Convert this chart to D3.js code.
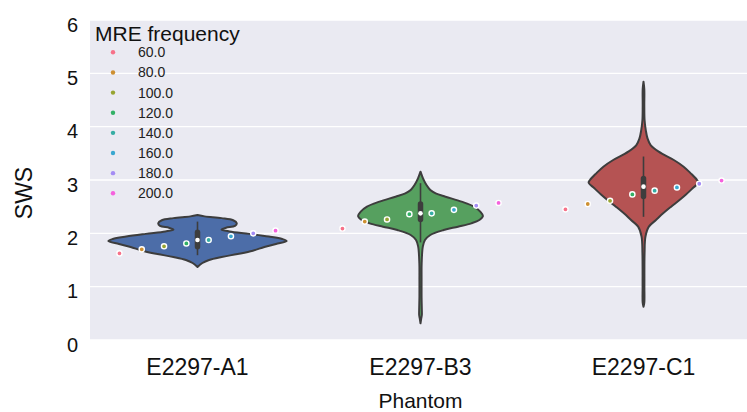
<!DOCTYPE html>
<html>
<head>
<meta charset="utf-8">
<script src="https://cdn.jsdelivr.net/npm/d3@7"></script>
<style>
  html, body { margin: 0; padding: 0; background: #ffffff; }
  svg { display: block; font-family: "Liberation Sans", Arial, Helvetica, sans-serif; }
</style>
</head>
<body>
<svg id="chart" width="747" height="412"></svg>
<script>
// ---------------- data ----------------
const categories = ["E2297-A1", "E2297-B3", "E2297-C1"];
const frequencies = [60, 80, 100, 120, 140, 160, 180, 200];
const frequencyLabels = ["60.0", "80.0", "100.0", "120.0", "140.0", "160.0", "180.0", "200.0"];
const frequencyColors = ["#f77189", "#ce9032", "#97a431", "#32b166", "#36ada4", "#39a7d0", "#a48cf4", "#f561dd"];
const violinColors = ["#4c6da8", "#56a05f", "#b55353"];
const yTicks = [0, 1, 2, 3, 4, 5, 6];

// SWS per MRE frequency (one point per frequency and phantom)
const swsA1 = [1.625, 1.70, 1.757, 1.81, 1.875, 1.944, 2.00, 2.05];
const swsB3 = [2.09, 2.22, 2.26, 2.36, 2.375, 2.44, 2.52, 2.57];
const swsC1 = [2.45, 2.55, 2.61, 2.73, 2.80, 2.86, 2.93, 2.99];

// violin density profiles: [SWS, relative density]
const densityA1 = [
  [2.344, 0], [2.318, .08], [2.285, .27], [2.245, .40], [2.19, .44], [2.14, .42],
  [2.105, .32], [2.07, .27], [2.035, .36], [1.99, .58], [1.94, .80], [1.894, .95], [1.856, 1.0],
  [1.80, .88], [1.744, .75], [1.674, .62], [1.6125, .45], [1.556, .27], [1.50, .13],
  [1.444, .055], [1.369, 0]
];
const densityB3 = [
  [3.156, 0], [3.031, .028], [2.906, .067], [2.8125, .11], [2.75, .17], [2.687, .28],
  [2.594, .46], [2.50, .60], [2.406, .67], [2.325, .70], [2.25, .66], [2.1875, .57],
  [2.125, .42], [2.0625, .26], [1.969, .11], [1.875, .05], [1.75, .026], [1.4375, .013],
  [1.125, .012], [0.8125, .012], [0.5625, .015], [0.469, .015], [0.40, .008], [0.3125, 0]
];
const densityC1 = [
  [4.844, 0], [4.70, .009], [4.40, .009], [4.125, .012], [3.94, .025], [3.78, .045],
  [3.656, .08], [3.531, .17], [3.375, .34], [3.25, .45], [3.125, .53], [3.0, .60],
  [2.95, .615], [2.844, .55], [2.719, .47], [2.606, .39], [2.50, .31], [2.375, .22],
  [2.25, .14], [2.125, .06], [1.94, .022], [1.625, .012], [1.0, .01], [0.70, .009], [0.625, 0]
];

// inner box statistics
const medians = [1.875, 2.375, 2.875];
const quartile1 = [1.75, 2.26, 2.69];
const quartile3 = [2.02, 2.55, 3.03];
const whiskerLow = [1.59, 1.83, 2.31];
const whiskerHigh = [2.22, 2.94, 3.44];

const swsByPhantom = [swsA1, swsB3, swsC1];
const densityByPhantom = [densityA1, densityB3, densityC1];

// ---------------- layout ----------------
const svg = d3.select("#chart");
const plot = { left: 90, right: 747, top: 20, bottom: 340 };

const x = d3.scaleBand().domain(categories).range([86, 755]).padding(0);
const y = d3.scaleLinear().domain([0, 6]).range([plot.bottom, plot.top]);
const hue = d3.scalePoint().domain(frequencies).range([-0.35 * x.bandwidth(), 0.35 * x.bandwidth()]);
const w = d3.scaleLinear().domain([0, 1]).range([0, 0.4 * x.bandwidth()]);

svg.append("defs").append("clipPath").attr("id", "clip")
  .append("rect").attr("x", plot.left).attr("y", plot.top)
  .attr("width", plot.right - plot.left).attr("height", plot.bottom - plot.top);

svg.append("rect")
  .attr("x", plot.left).attr("y", plot.top)
  .attr("width", plot.right - plot.left).attr("height", plot.bottom - plot.top)
  .attr("fill", "#eaeaf2");

// gridlines
const grid = svg.append("g").attr("clip-path", "url(#clip)");
grid.selectAll("line").data(yTicks).join("line")
  .attr("x1", plot.left).attr("x2", plot.right)
  .attr("y1", d => y(d)).attr("y2", d => y(d))
  .attr("stroke", "#ffffff").attr("stroke-width", 1.4);

// y axis
const yAxis = svg.append("g")
  .attr("transform", `translate(${plot.left},0)`)
  .call(d3.axisLeft(y).tickValues(yTicks).tickFormat(d3.format("d")).tickSize(0).tickPadding(12));
yAxis.select(".domain").remove();
yAxis.selectAll("text")
  .attr("font-size", 20).attr("fill", "#111").attr("font-family", null)
  .attr("dy", "0.55em");

// x axis
const xAxis = svg.append("g")
  .attr("transform", `translate(0,${plot.bottom})`)
  .call(d3.axisBottom(x).tickSize(0).tickPadding(0));
xAxis.select(".domain").remove();
xAxis.selectAll("text")
  .attr("font-size", 23).attr("fill", "#111").attr("font-family", null)
  .attr("y", 35).attr("dy", 0);

// axis titles
svg.append("text")
  .attr("transform", "translate(32,193) rotate(-90)")
  .attr("text-anchor", "middle").attr("font-size", 23).attr("fill", "#111")
  .text("SWS");
svg.append("text")
  .attr("x", x(categories[1]) + x.bandwidth() / 2).attr("y", 408)
  .attr("text-anchor", "middle").attr("font-size", 21).attr("fill", "#111")
  .text("Phantom");

// violins
const violinArea = (cx) => d3.area()
  .y(d => y(d[0]))
  .x0(d => cx - w(d[1]))
  .x1(d => cx + w(d[1]))
  .curve(d3.curveCatmullRom.alpha(0.5));

const violins = svg.append("g").attr("clip-path", "url(#clip)");
categories.forEach((c, i) => {
  const cx = x(c) + x.bandwidth() / 2;
  const g = violins.append("g");
  g.append("path")
    .attr("d", violinArea(cx)(densityByPhantom[i]))
    .attr("fill", violinColors[i])
    .attr("stroke", "#3d3d3d").attr("stroke-width", 2).attr("stroke-linejoin", "round");
  // whisker
  g.append("line")
    .attr("x1", cx).attr("x2", cx)
    .attr("y1", y(whiskerLow[i])).attr("y2", y(whiskerHigh[i]))
    .attr("stroke", "#3d3d3d").attr("stroke-width", 1.6);
  // box
  g.append("line")
    .attr("x1", cx).attr("x2", cx)
    .attr("y1", y(quartile1[i])).attr("y2", y(quartile3[i]))
    .attr("stroke", "#3d3d3d").attr("stroke-width", 5.5).attr("stroke-linecap", "round");
  // median
  g.append("circle")
    .attr("cx", cx).attr("cy", y(medians[i])).attr("r", 2.3)
    .attr("fill", "#ffffff");
});

// points
const points = svg.append("g");
categories.forEach((c, i) => {
  const cx = x(c) + x.bandwidth() / 2;
  points.selectAll(null).data(swsByPhantom[i]).join("circle")
    .attr("cx", (d, j) => cx + hue(frequencies[j]))
    .attr("cy", d => y(d))
    .attr("r", 2.6)
    .attr("fill", (d, j) => frequencyColors[j])
    .attr("stroke", "#ffffff").attr("stroke-width", 1.4);
});

// legend
const legend = svg.append("g");
legend.append("text")
  .attr("x", 95).attr("y", 41)
  .attr("font-size", 21).attr("fill", "#111")
  .text("MRE frequency");
const rowY = d3.scalePoint().domain(frequencies).range([52.3, 193.3]);
const rows = legend.selectAll("g.row").data(frequencies).join("g").attr("class", "row")
  .attr("transform", d => `translate(0,${rowY(d)})`);
rows.append("circle").attr("cx", 113).attr("cy", 0).attr("r", 2.2)
  .attr("fill", (d, j) => frequencyColors[j]);
rows.append("text").attr("x", 138).attr("y", 0).attr("dy", "0.36em")
  .attr("font-size", 14).attr("fill", "#222")
  .text((d, j) => frequencyLabels[j]);
</script>
</body>
</html>
